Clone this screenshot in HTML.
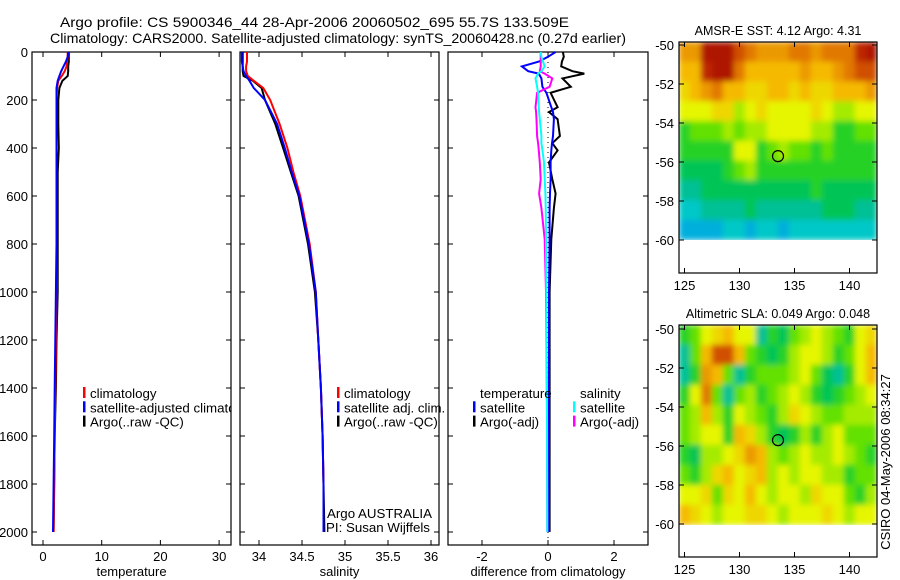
<!DOCTYPE html>
<html><head><meta charset="utf-8">
<style>
html,body{margin:0;padding:0;background:#fff;}
svg{display:block;font-family:"Liberation Sans",sans-serif;}
</style></head>
<body>
<svg id="fig" width="900" height="580" viewBox="0 0 900 580" xmlns="http://www.w3.org/2000/svg">
<defs>
<clipPath id="clipP1"><rect x="32" y="52" width="199" height="493"/></clipPath>
<clipPath id="clipM1"><rect x="679" y="42" width="198" height="198"/></clipPath>
<clipPath id="clipM2"><rect x="679" y="325" width="198" height="200"/></clipPath>
<filter id="sm" x="-5%" y="-5%" width="110%" height="110%"><feGaussianBlur stdDeviation="3" edgeMode="duplicate"/></filter>
</defs>
<text x="60" y="27" font-size="14" textLength="509" lengthAdjust="spacingAndGlyphs">Argo profile: CS 5900346_44 28-Apr-2006 20060502_695 55.7S 133.509E</text>
<text x="50" y="43" font-size="14" textLength="576" lengthAdjust="spacingAndGlyphs">Climatology: CARS2000. Satellite-adjusted climatology: synTS_20060428.nc (0.27d earlier)</text>
<g id="g"></g>
</svg>
<script>
// ---- profile data ----
const depths=[0,20,40,60,80,100,120,150,200,300,400,500,600,800,1000,1200,1400,1600,1800,2000];
const tempClim=[4.2,4.2,4.1,4.0,3.7,3.2,2.6,2.4,2.3,2.3,2.3,2.3,2.3,2.3,2.3,2.2,2.1,2.0,1.9,1.8];
const tempSat=[4.3,4.2,3.9,3.5,3.1,2.8,2.5,2.3,2.3,2.3,2.3,2.3,2.3,2.3,2.2,2.1,2.0,1.9,1.8,1.7];
const tempArgo=[4.4,4.4,4.4,4.3,4.3,4.2,3.3,2.8,2.6,2.6,2.7,2.5,2.5,2.5,2.5,2.3,2.2,2.0,1.9,1.8];
const salClim=[33.86,33.86,33.86,33.85,33.85,33.87,33.94,34.05,34.13,34.24,34.33,34.40,34.48,34.59,34.66,34.69,34.72,34.74,34.75,34.75];
const salSat=[33.80,33.80,33.80,33.81,33.82,33.85,33.89,33.94,34.07,34.21,34.30,34.38,34.47,34.58,34.66,34.69,34.72,34.74,34.75,34.75];
const salArgo=[33.81,33.81,33.81,33.81,33.81,33.82,33.93,34.03,34.07,34.19,34.28,34.37,34.46,34.57,34.65,34.69,34.72,34.74,34.75,34.76];
const diffDepths=[0,20,40,60,80,90,110,145,170,230,250,280,350,380,410,460,530,590,650,780,1000,1500,2000];
const diffTArgo=[0.45,0.48,0.42,0.40,0.74,1.1,0.44,0.69,0.08,0.29,0.03,0.29,0.36,0.13,0.29,0.03,0.13,0.23,0.18,0.10,0.05,0.05,0.05];
const diffTSat=[0.23,0.0,-0.28,-0.79,-0.6,-0.28,-0.2,-0.17,-0.05,0.1,0.15,0.18,0.15,0.12,0.1,0.08,0.08,0.06,0.05,0.05,0.03,0.03,0.03];
const diffSSat=[-0.22,-0.2,-0.15,-0.1,-0.2,-0.3,-0.38,-0.33,-0.3,-0.28,-0.27,-0.25,-0.2,-0.2,-0.17,-0.12,-0.1,-0.08,-0.07,-0.06,-0.05,-0.03,-0.02];
const diffSArgo=[-0.22,-0.22,-0.22,-0.22,-0.25,-0.1,0.13,0.05,-0.33,-0.38,-0.36,-0.35,-0.33,-0.3,-0.28,-0.25,-0.22,-0.27,-0.2,-0.1,-0.06,-0.03,-0.02];
const depthTicks=[0,200,400,600,800,1000,1200,1400,1600,1800,2000];
const tempTicks=[0,10,20,30];
const salTicks=[34,34.5,35,35.5,36];
const diffTicks=[-2,0,2];
// ---- map data (rows lat -50..-59, cols lon 124.5..141.5) ----
const sstRows=[
[7.5,7.5,9.5,9.5,9.5,8.5,8,7.5,7.5,7.5,8,8,7.5,8,8,8,9,9.5],
[7,7,9,9.5,9.5,8,7,7,7,7,7,7.5,7,7,7.5,8,8.5,8.5],
[6.5,7,7.5,8,7,7,6.5,6.5,7,7,6.5,7,6.5,6.5,7,7,7,7.5],
[6,6,6,6.5,6.5,5.5,6,6.5,6,6,6,6,6.5,6,5.5,5.5,6,6],
[4.5,5,5,5,5.5,5,5.5,5.5,6,6,6,6,5.5,5.5,4.5,4.5,5,5],
[4.5,4.5,4.5,4.5,4.5,6,6,4.5,5,5.5,5,5,4.5,5,4.5,4.5,4.5,4.5],
[4,4,4,4,4.5,5,5.5,4.5,4.5,4.5,4.5,4.5,4.5,4.5,4.5,4.5,4.5,4.5],
[3.5,3.5,4,4,4,4,4,4,4,4,4,4,4.5,4,4,4,4,4],
[3,3,3.5,3.5,3.5,3.5,4,3.5,3.5,3.5,3.5,3.5,3.5,4,4,4,3.5,3.5],
[2.5,2.5,2.5,2.5,3,3,2.5,3,3,2.5,3,3,3,3,3,3,3,3]];
const slaRows=[
[4.5,5,6,6.5,7,6,6,3.5,4.5,4,5,5.5,6,5.5,5,4.5,6,6.5],
[3.5,5,7,8.5,8.5,7,5,4.5,4,4.5,5.5,6,6,5.5,4.5,5,6,7],
[3.5,4.5,7.5,7,5,3.5,4.5,5,5,5,5.5,6,5,4,3.5,4.5,6,7],
[4.5,6,8,5,3.5,5,5.5,4.5,5,5.5,6,5.5,4.5,4,4.5,5,5.5,6],
[5,5.5,7,5.5,4.5,6,5.5,5,4.5,5.5,6.5,6,5.5,5,5,5.5,5.5,5.5],
[5,5.5,6,6,4.5,7,6.5,5.5,4.5,4,4.5,5.5,4.5,5.5,6,5,5,5],
[4.5,4,5.5,5.5,6,6.5,7.5,7,5.5,5,5.5,6,5.5,5.5,6,5.5,5,4.5],
[5,4.5,5.5,6.5,7,6,6.5,7,5.5,6,5.5,6,6,5.5,5.5,4.5,5,5],
[6,6,6.5,5,6.5,6,7,6,5.5,6,6,5.5,6.5,6,6,5,4.5,5.5],
[7,6.5,6,5.5,6,6,6.5,6.5,6,5.5,6,6,6,6.5,6,5.5,6,6]];
const lonTicks=[125,130,135,140];
const latTicks=[-50,-52,-54,-56,-58,-60];
const argoLon=133.5, argoLat=-55.7;

const NS="http://www.w3.org/2000/svg";
const G=document.getElementById('g');
function mk(tag,attrs,parent){const e=document.createElementNS(NS,tag);for(const k in attrs)e.setAttribute(k,attrs[k]);(parent||G).appendChild(e);return e;}
function txt(x,y,s,size,anchor,fill){const t=mk('text',{x:x,y:y,'font-size':size||13,'text-anchor':anchor||'start',fill:fill||'#000'});t.textContent=s;return t;}
const yD=d=>52+0.24*d;
const xT=v=>43+5.87*v;
const xS=v=>259+86*(v-34);
const xDf=v=>548+33*v;

function panel(name,x0,x1,xf,ticks,label){
  const g=mk('g',{});
  
  
  mk('rect',{x:x0,y:52,width:x1-x0,height:493,fill:'none',stroke:'#000','stroke-width':1.2},g);
  ticks.forEach(v=>{const x=xf(v);mk('line',{x1:x,x2:x,y1:545,y2:540,stroke:'#000'},g);mk('line',{x1:x,x2:x,y1:52,y2:57,stroke:'#000'},g);
    const t=txt(x,561,String(v),13,'middle');g.appendChild(t);});
  depthTicks.forEach(d=>{const y=yD(d);mk('line',{x1:x0,x2:x0+5,y1:y,y2:y,stroke:'#000'},g);mk('line',{x1:x1,x2:x1-5,y1:y,y2:y,stroke:'#000'},g);});
  const l=txt((x0+x1)/2,576,label,13,'middle');g.appendChild(l);
  return g;
}
function line(vals,ds,xf,color,name,g){
  const p=vals.map((v,i)=>xf(v).toFixed(1)+','+yD(ds[i]).toFixed(1)).join(' ');
  const e=mk('polyline',{points:p,fill:'none',stroke:color,'stroke-width':2},g);
  
  
}
depthTicks.forEach(d=>{const t=txt(28,yD(d)+5,String(d),13,'end');});

const p1=panel('temperature-panel',32,231,xT,tempTicks,'temperature');
line(tempArgo,depths,xT,'#000','temp-argo-line',p1);
line(tempClim,depths,xT,'#f00','temp-clim-line',p1);
line(tempSat,depths,xT,'#00f','temp-sat-line',p1);

const p2=panel('salinity-panel',240,439,xS,salTicks,'salinity');
line(salArgo,depths,xS,'#000','sal-argo-line',p2);
line(salClim,depths,xS,'#f00','sal-clim-line',p2);
line(salSat,depths,xS,'#00f','sal-sat-line',p2);

const p3=panel('difference-panel',448,648,xDf,diffTicks,'difference from climatology');
mk('line',{x1:xDf(0),x2:xDf(0),y1:52,y2:545,stroke:'#000','stroke-dasharray':'1,4'},p3);
line(diffTArgo,diffDepths,xDf,'#000','diff-temp-argo-line',p3);
line(diffTSat,diffDepths,xDf,'#00f','diff-temp-sat-line',p3);
line(diffSArgo,diffDepths,xDf,'#f0f','diff-sal-argo-line',p3);
line(diffSSat,diffDepths,xDf,'#0ff','diff-sal-sat-line',p3);

function legend(x,y,items,name,clip){
  const g=mk('g',{});
  if(clip)g.setAttribute('clip-path','url(#'+clip+')');
  items.forEach((it,i)=>{const yy=y+i*14.3;
    if(it[1])mk('rect',{x:x,y:yy-11,width:2.5,height:11,fill:it[1]},g);
    const t=txt(x+7,yy,it[0],13.3);g.appendChild(t);});
}
legend(83,398,[['climatology','#f00'],['satellite-adjusted climatology','#00f'],['Argo(..raw -QC)','#000']],'temperature-legend','clipP1');
legend(337,398,[['climatology','#f00'],['satellite adj. clim.','#00f'],['Argo(..raw -QC)','#000']],'salinity-legend');
txt(327,518,'Argo AUSTRALIA',13.3);
txt(326,532,'PI: Susan Wijffels',13.3);
legend(473,398,[['temperature',null],['satellite','#00f'],['Argo(-adj)','#000']],'diff-temp-legend');
legend(573,398,[['salinity',null],['satellite','#0ff'],['Argo(-adj)','#f0f']],'diff-sal-legend');

// ---- maps ----
const stops=[[2,[0,150,240]],[3,[0,200,200]],[3.6,[0,190,140]],[4.2,[0,200,60]],[5,[100,225,0]],[6,[230,245,0]],[7,[245,185,0]],[8,[225,120,0]],[9,[190,40,0]],[10,[160,0,0]]];
function cmap(v){if(v<=stops[0][0])return 'rgb('+stops[0][1]+')';
  for(let i=1;i<stops.length;i++){if(v<=stops[i][0]){const a=stops[i-1],b=stops[i],t=(v-a[0])/(b[0]-a[0]);
    return 'rgb('+a[1].map((c,j)=>Math.round(c+(b[1][j]-c)*t)).join(',')+')';}}
  return 'rgb('+stops[stops.length-1][1]+')';}
function map(name,rows,top,latTop,imgBot,boxBot,clip,title){
  const g=mk('g',{});
  const xL=v=>679+11*(v-124.5), yL=v=>latTop+19.5*(-50-v);
  const cg=mk('g',{'clip-path':'url(#'+clip+')'},g);
  const img=mk('g',{filter:'url(#sm)'},cg);
  const rh=(imgBot-top)/rows.length;
  rows.forEach((r,i)=>r.forEach((v,j)=>{
    const c=mk('rect',{x:(xL(124.5+j)-0.2).toFixed(1),y:(top+i*rh-0.2).toFixed(1),width:11.4,height:(rh+0.4).toFixed(1),fill:cmap(v)},img);
    
    
  }));
  mk('rect',{x:679,y:top,width:198,height:boxBot-top,fill:'none',stroke:'#000','stroke-width':1.2},g);
  lonTicks.forEach(v=>{const x=xL(v);mk('line',{x1:x,x2:x,y1:top,y2:top+5,stroke:'#000'},g);
    mk('line',{x1:x,x2:x,y1:boxBot,y2:boxBot-5,stroke:'#000'},g);g.appendChild(txt(x,boxBot+17,String(v),13,'middle'));});
  latTicks.forEach(v=>{const y=yL(v);mk('line',{x1:679,x2:684,y1:y,y2:y,stroke:'#000'},g);mk('line',{x1:877,x2:872,y1:y,y2:y,stroke:'#000'},g);
    g.appendChild(txt(674,y+5,String(v),13,'end'));});
  const c=mk('circle',{cx:xL(argoLon),cy:yL(argoLat),r:5.5,fill:'none',stroke:'#000','stroke-width':1.2},g);
  
  
  const t=txt(778,top-7,title,12.5,'middle');g.appendChild(t);
}
map('sst-map',sstRows,42,45,240,273,'clipM1','AMSR-E SST: 4.12 Argo: 4.31');
map('sla-map',slaRows,325,329,525,557,'clipM2','Altimetric SLA: 0.049 Argo: 0.048');
const cs=txt(0,0,'CSIRO 04-May-2006 08:34:27',13,'middle');
cs.setAttribute('transform','translate(890,462) rotate(-90)');


</script>
</body></html>
